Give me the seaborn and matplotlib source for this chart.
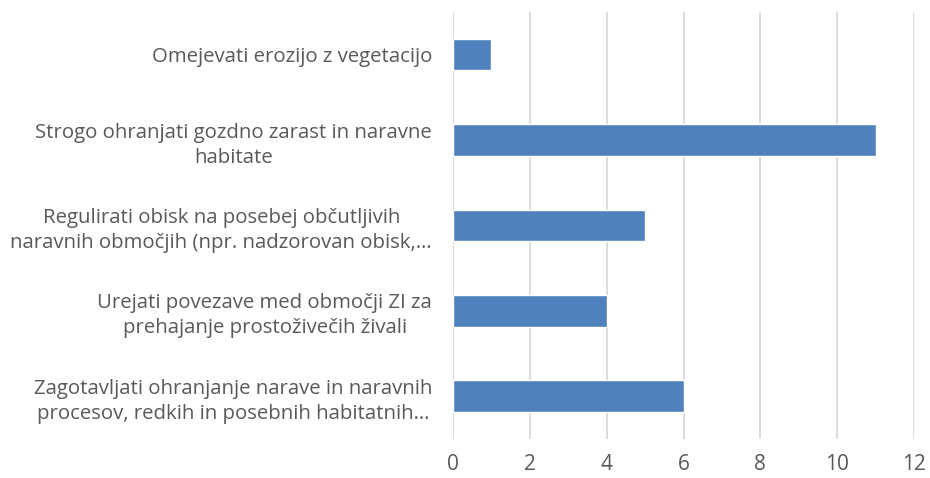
import matplotlib
matplotlib.use("Agg")
from matplotlib import pyplot as plt
import pandas as pd
import seaborn as sns

categories = ['Omejevati erozijo z vegetacijo',
              'Strogo ohranjati gozdno zarast in naravne\nhabitate',
              'Regulirati obisk na posebej občutljivih\nnaravnih območjih (npr. nadzorovan obisk,…',
              'Urejati povezave med območji ZI za\nprehajanje prostoživečih živali',
              'Zagotavljati ohranjanje narave in naravnih\nprocesov, redkih in posebnih habitatnih…']
values = [1, 11, 5, 4, 6]
xticks = [0, 2, 4, 6, 8, 10, 12]

sns.set_style('white')
plt.rcParams['font.family'] = ['Open Sans', 'DejaVu Sans']

df = pd.DataFrame({'cat': categories, 'val': values})

fig, ax = plt.subplots(figsize=(9.3, 4.78), dpi=100)
fig.subplots_adjust(left=0.487, right=0.983, top=0.975, bottom=0.082)

sns.barplot(data=df, y='cat', x='val', orient='h', color='#4F81BD',
            saturation=1, width=0.37, ax=ax, zorder=3)

ax.set_xlim(0, 12)
ax.set_xticks(xticks)
ax.set_xticklabels([str(t) for t in xticks])
ax.xaxis.grid(True, color='#D9D9D9', linewidth=1.3, zorder=0)
ax.set_axisbelow(True)
for s in ax.spines.values():
    s.set_visible(False)
ax.set_xlabel('')
ax.set_ylabel('')
ax.tick_params(axis='x', length=0, pad=11, labelsize=15, labelcolor='#595959')
ax.tick_params(axis='y', length=0, pad=15, labelsize=14.7, labelcolor='#595959')
for lab in ax.get_yticklabels():
    lab.set_multialignment('center')
    lab.set_linespacing(1.35)

fig.savefig('out.png', dpi=100, facecolor='white')
